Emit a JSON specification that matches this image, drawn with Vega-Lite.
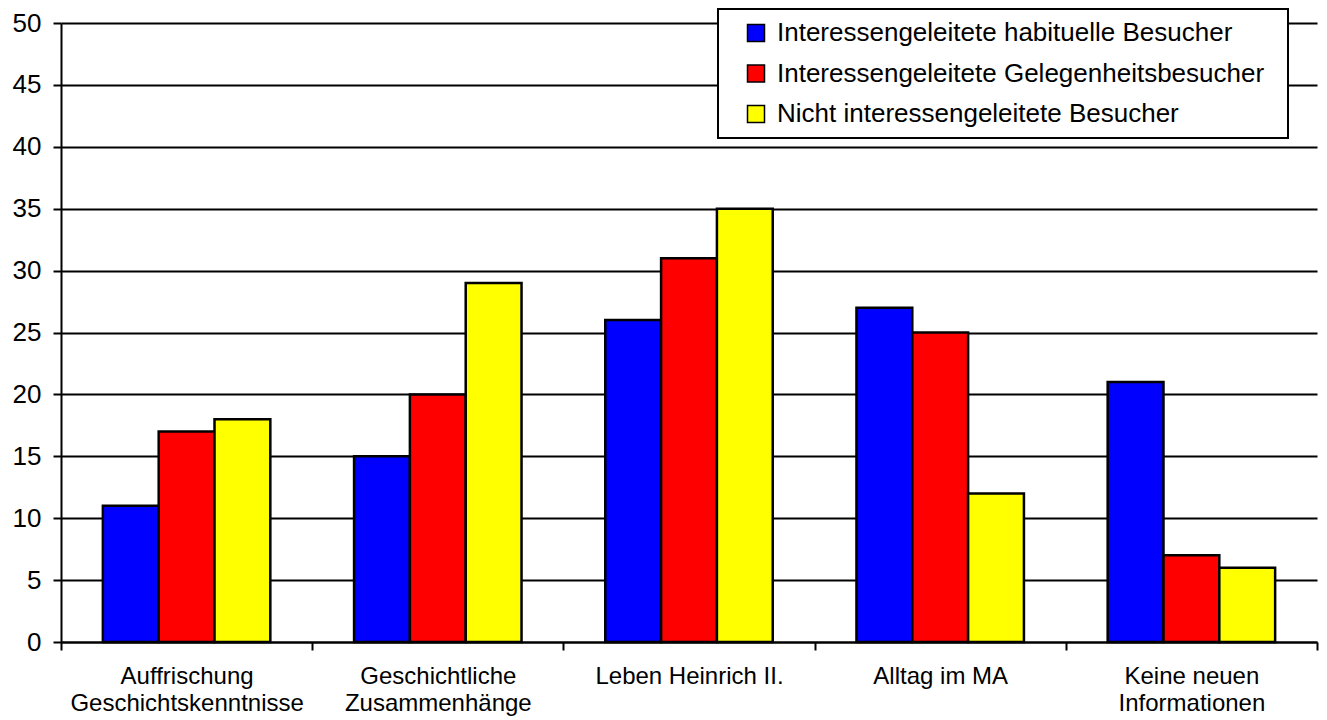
{
  "$schema": "https://vega.github.io/schema/vega-lite/v6.json",
  "width": 1256,
  "height": 619,
  "autosize": {"type": "none"},
  "padding": {"left": 61, "top": 23, "right": 10, "bottom": 78},
  "background": "white",
  "config": {
    "view": {"stroke": null},
    "font": "Liberation Sans"
  },
  "data": {
    "values": [
      {"kategorie": "Auffrischung|Geschichtskenntnisse", "gruppe": "Interessengeleitete habituelle Besucher", "wert": 11},
      {"kategorie": "Auffrischung|Geschichtskenntnisse", "gruppe": "Interessengeleitete Gelegenheitsbesucher", "wert": 17},
      {"kategorie": "Auffrischung|Geschichtskenntnisse", "gruppe": "Nicht interessengeleitete Besucher", "wert": 18},
      {"kategorie": "Geschichtliche|Zusammenhänge", "gruppe": "Interessengeleitete habituelle Besucher", "wert": 15},
      {"kategorie": "Geschichtliche|Zusammenhänge", "gruppe": "Interessengeleitete Gelegenheitsbesucher", "wert": 20},
      {"kategorie": "Geschichtliche|Zusammenhänge", "gruppe": "Nicht interessengeleitete Besucher", "wert": 29},
      {"kategorie": "Leben Heinrich II.", "gruppe": "Interessengeleitete habituelle Besucher", "wert": 26},
      {"kategorie": "Leben Heinrich II.", "gruppe": "Interessengeleitete Gelegenheitsbesucher", "wert": 31},
      {"kategorie": "Leben Heinrich II.", "gruppe": "Nicht interessengeleitete Besucher", "wert": 35},
      {"kategorie": "Alltag im MA", "gruppe": "Interessengeleitete habituelle Besucher", "wert": 27},
      {"kategorie": "Alltag im MA", "gruppe": "Interessengeleitete Gelegenheitsbesucher", "wert": 25},
      {"kategorie": "Alltag im MA", "gruppe": "Nicht interessengeleitete Besucher", "wert": 12},
      {"kategorie": "Keine neuen|Informationen", "gruppe": "Interessengeleitete habituelle Besucher", "wert": 21},
      {"kategorie": "Keine neuen|Informationen", "gruppe": "Interessengeleitete Gelegenheitsbesucher", "wert": 7},
      {"kategorie": "Keine neuen|Informationen", "gruppe": "Nicht interessengeleitete Besucher", "wert": 6}
    ]
  },
  "mark": {"type": "bar", "stroke": "black", "strokeWidth": 2.5},
  "encoding": {
    "x": {
      "field": "kategorie",
      "type": "nominal",
      "sort": null,
      "scale": {"paddingInner": 0, "paddingOuter": 0},
      "axis": {
        "title": null,
        "labelAngle": 0,
        "labelExpr": "split(datum.label, '|')",
        "labelFontSize": 24,
        "labelLineHeight": 27,
        "labelColor": "black",
        "labelPadding": 14,
        "labelLimit": 400,
        "tickBand": "extent",
        "tickSize": 8,
        "tickWidth": 2,
        "tickColor": "black",
        "domainColor": "black",
        "domainWidth": 2,
        "grid": false
      }
    },
    "xOffset": {
      "field": "gruppe",
      "type": "nominal",
      "scale": {
        "domain": ["Interessengeleitete habituelle Besucher", "Interessengeleitete Gelegenheitsbesucher", "Nicht interessengeleitete Besucher"],
        "paddingInner": 0,
        "paddingOuter": 0.75
      }
    },
    "y": {
      "field": "wert",
      "type": "quantitative",
      "scale": {"domain": [0, 50], "nice": false},
      "axis": {
        "title": null,
        "values": [0, 5, 10, 15, 20, 25, 30, 35, 40, 45, 50],
        "labelFontSize": 26,
        "labelColor": "black",
        "labelPadding": 12,
        "tickSize": 8,
        "tickWidth": 2,
        "tickColor": "black",
        "domainColor": "black",
        "domainWidth": 2,
        "grid": true,
        "gridColor": "black",
        "gridWidth": 2,
        "gridOpacity": 1
      }
    },
    "color": {
      "field": "gruppe",
      "type": "nominal",
      "scale": {
        "domain": ["Interessengeleitete habituelle Besucher", "Interessengeleitete Gelegenheitsbesucher", "Nicht interessengeleitete Besucher"],
        "range": ["#0000FF", "#FF0000", "#FFFF00"]
      },
      "legend": {
        "title": null,
        "orient": "none",
        "legendX": 657,
        "legendY": -14,
        "fillColor": "white",
        "strokeColor": "black",
        "padding": 11,
        "symbolType": "square",
        "symbolSize": 289,
        "symbolStrokeColor": "black",
        "symbolStrokeWidth": 1.5,
        "symbolOffset": 14,
        "labelFontSize": 26,
        "labelColor": "black",
        "labelOffset": 8,
        "labelLimit": 600,
        "labelExpr": "datum.label + '\u00a0\u2009\u200b'",
        "rowPadding": 14.5,
        "encode": {
          "legend": {"update": {"strokeWidth": {"value": 2}}}
        }
      }
    }
  }
}
